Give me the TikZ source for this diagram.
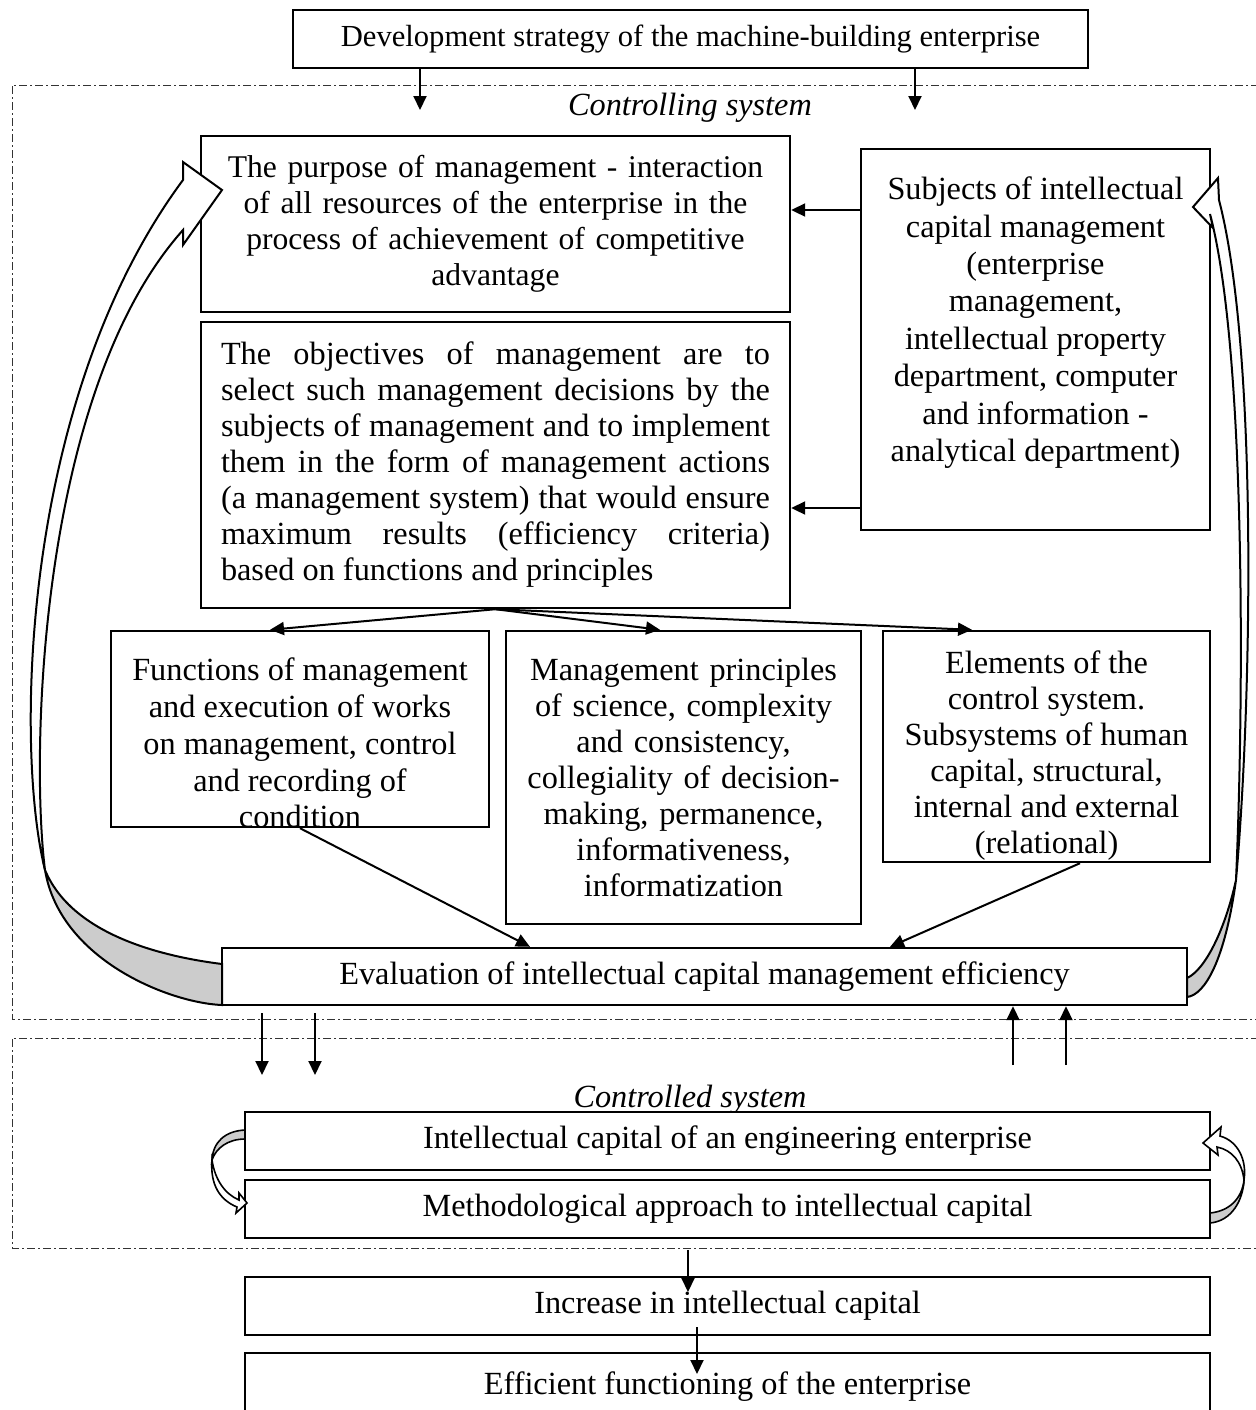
\documentclass[tikz,border=0pt]{standalone}
\usepackage{fontspec}
\setmainfont{Liberation Serif}
\usetikzlibrary{arrows.meta,calc}
\begin{document}
\begin{tikzpicture}[x=0.5pt,y=-0.5pt,
  box/.style={draw,line width=1.2pt,fill=white,inner sep=0pt,align=center,
    font=\fontsize{16.15pt}{18pt}\selectfont},
  arr/.style={line width=1pt,-{Triangle[length=7pt,width=6.5pt]}},
  frame/.style={line width=0.5pt,black!80,dash pattern=on 4pt off 1.5pt on 1pt off 1.5pt},
  lbl/.style={font=\fontsize{16.15pt}{18pt}\selectfont\itshape},
  band/.style={line width=1pt,fill=white,line join=miter},
  back/.style={line width=1pt,fill=black!20}]
\useasboundingbox (0,0) rectangle (1255,1410);
% frames
\draw[frame] (1275,85) -- (12,85) -- (12,1019) -- (1275,1019);
\draw[frame] (1275,1038) -- (12,1038) -- (12,1248) -- (1275,1248);
\node[lbl] (ctrl) at (690,108) {Controlling system};
\node[lbl] (ctrd) at (690,1100) {Controlled system};
% boxes
\node[box,minimum width=397.5pt,minimum height=29pt,font=\fontsize{15.3pt}{18pt}\selectfont] (top) at (690.5,39)
  {Development strategy of the machine-building enterprise};
\node[box,minimum width=294.5pt,minimum height=88pt,text width=285pt,font=\fontsize{15.8pt}{18pt}\selectfont] (purpose) at (495.5,224)
  {The purpose of management - interaction\\ of all resources of the enterprise in the\\ process of achievement of competitive\\ advantage};
\node[box,minimum width=174.5pt,minimum height=190.5pt,font=\fontsize{16.15pt}{18.7pt}\selectfont] (subj) at (1035.5,339.5)
  {\parbox[c][190.5pt][t]{172pt}{\centering\vspace*{14pt}Subjects of intellectual\\ capital management\\ (enterprise\\ management,\\ intellectual property\\ department, computer\\ and information -\\ analytical department)}};
\node[box,minimum width=294.5pt,minimum height=143pt,text width=274.5pt,align=justify] (obj) at (495.5,465)
  {The objectives of management are to\linebreak select such management decisions by the\linebreak subjects of management and to implement\linebreak them in the form of management actions\linebreak (a management system) that would ensure\linebreak maximum results (efficiency criteria)\linebreak based on functions and principles};
\node[box,minimum width=189pt,minimum height=98pt,font=\fontsize{16.15pt}{18.4pt}\selectfont] (func) at (300,729)
  {\parbox[c][98pt][t]{186pt}{\centering\vspace*{13.5pt}Functions of management\\ and execution of works\\ on management, control\\ and recording of\\ condition}};
\node[box,minimum width=177.5pt,minimum height=146.5pt,text width=175pt] (princ) at (683.5,777.5)
  {Management principles\\ of science, complexity\\ and consistency,\\ collegiality of decision-\\ making, permanence,\\ informativeness,\\ informatization};
\node[box,minimum width=163.5pt,minimum height=115.5pt] (elem) at (1046.5,746.5)
  {\parbox[c][115.5pt][t]{161pt}{\centering\vspace*{10pt}Elements of the\\ control system.\\ Subsystems of human\\ capital, structural,\\ internal and external\\ (relational)}};
\node[box,minimum width=482.5pt,minimum height=28.5pt] (eval) at (704.5,976.5)
  {Evaluation of intellectual capital management efficiency};
\node[box,minimum width=482.5pt,minimum height=29pt] (ic) at (727.5,1141)
  {Intellectual capital of an engineering enterprise};
\node[box,minimum width=482.5pt,minimum height=29pt] (meth) at (727.5,1209)
  {Methodological approach to intellectual capital};
\node[box,minimum width=482.5pt,minimum height=29pt] (inc) at (727.5,1306)
  {Increase in intellectual capital};
\node[box,minimum width=482.5pt,minimum height=34pt] (eff) at (727.5,1387)
  {Efficient functioning of the enterprise};
% coordinates
\coordinate (c1) at (420,110);
\coordinate (c2) at (915,110);
\coordinate (s1) at (0,210);
\coordinate (s2) at (0,508);
\coordinate (f1) at (270,0);
\coordinate (f2) at (660,0);
\coordinate (f3) at (972,0);
\coordinate (e1) at (300,0);
\coordinate (e2) at (530,0);
\coordinate (e3) at (1080,0);
\coordinate (e4) at (890,0);
\coordinate (d1) at (262,1075);
\coordinate (d2) at (315,1075);
\coordinate (u1) at (1013,1065);
\coordinate (u2) at (1066,1065);
\coordinate (g1) at (688,1250);
\coordinate (g2) at (688,1292);
\coordinate (h1) at (697,1327);
\coordinate (h2) at (697,1374);
% arrows
\draw[arr] (top.south -| c1) -- (c1);
\draw[arr] (top.south -| c2) -- (c2);
\draw[arr] (subj.west |- s1) -- (purpose.east |- s1);
\draw[arr] (subj.west |- s2) -- (obj.east |- s2);
\draw[arr] (obj.south) -- (func.north -| f1);
\draw[arr] (obj.south) -- (princ.north -| f2);
\draw[arr] (obj.south) -- (elem.north -| f3);
\draw[arr] (func.south -| e1) -- (eval.north -| e2);
\draw[arr] (elem.south -| e3) -- (eval.north -| e4);
\draw[arr,shorten <=3.5pt] (eval.south -| d1) -- (d1);
\draw[arr,shorten <=3.5pt] (eval.south -| d2) -- (d2);
\draw[arr] (u1) -- (eval.south -| u1);
\draw[arr] (u2) -- (eval.south -| u2);
\draw[arr] (g1) -- (g2);
\draw[arr] (h1) -- (h2);
% big curved arrow left (evaluation -> purpose)
\draw[back] (45,870) .. controls (60,960) and (170,1003) .. (222,1005) -- (222,964) .. controls (150,955) and (70,930) .. (45,870) -- cycle;
\draw[band] (45,870) .. controls (15,750) and (20,400) .. (183,180) -- (183,162) -- (222,190) -- (183,245) -- (183,230) .. controls (40,390) and (30,750) .. (45,870) -- cycle;
% big curved arrow right (evaluation -> subjects)
\draw[back] (1236,880) .. controls (1225,960) and (1205,995) .. (1187,997) -- (1187,978) .. controls (1205,970) and (1225,930) .. (1236,880) -- cycle;
\draw[band] (1236,880) .. controls (1252,700) and (1258,350) .. (1219,200) -- (1218,178) -- (1193,207) -- (1213,228) -- (1210,214) .. controls (1246,350) and (1244,700) .. (1236,880) -- cycle;
% small curved arrows
\draw[back,line width=0.8pt] (245,1130) .. controls (225,1131) and (213,1142) .. (212,1160) .. controls (216,1148) and (228,1139) .. (245,1139) -- cycle;
\draw[band,line width=0.8pt] (212,1160) .. controls (210,1185) and (220,1200) .. (237,1207) -- (236,1213) -- (247,1203) -- (239,1193) -- (239,1200) .. controls (225,1194) and (215,1180) .. (212,1160) -- cycle;
\draw[back,line width=0.8pt] (1210,1213) .. controls (1230,1211) and (1242,1198) .. (1244,1180) .. controls (1243,1200) and (1232,1221) .. (1210,1223) -- cycle;
\draw[band,line width=0.8pt] (1244,1180) .. controls (1247,1160) and (1238,1141) .. (1220,1136) -- (1221,1127) -- (1203,1143) -- (1218,1155) -- (1217,1147) .. controls (1232,1150) and (1242,1162) .. (1244,1180) -- cycle;
\end{tikzpicture}
\end{document}
